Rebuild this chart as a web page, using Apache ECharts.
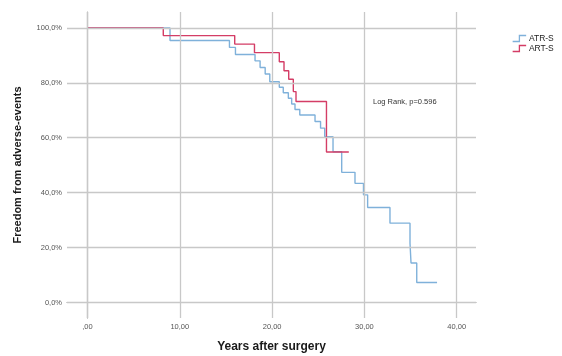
<!DOCTYPE html>
<html>
<head>
<meta charset="utf-8">
<script src="https://cdn.jsdelivr.net/npm/echarts@6/dist/echarts.min.js"></script>
<style>
  html, body { margin: 0; padding: 0; background: #ffffff; }
  #chart { width: 562px; height: 356px; }
</style>
</head>
<body>
<div id="chart"></div>
<script>
// Kaplan-Meier estimates: years after surgery and survival (%) at each step
const atrYears    = [0, 8.94, 15.38, 16.03, 18.15, 18.7, 19.25, 19.75, 20.78, 21.21, 21.76, 22.12, 22.48, 23.0, 24.65, 25.25, 25.7, 26.6, 27.54, 28.98, 29.9, 30.35, 32.77, 34.94, 35.05, 35.67, 37.87];
const atrSurvival = [100, 95.4, 92.9, 90.3, 88.0, 85.6, 83.2, 80.4, 78.4, 76.4, 74.4, 72.3, 70.3, 68.3, 65.9, 63.5, 60.4, 54.9, 47.4, 43.4, 39.2, 34.6, 28.9, 21.6, 14.4, 7.3, 7.3];

const artYears    = [0, 8.21, 15.95, 18.09, 20.78, 21.29, 21.80, 22.30, 22.59, 25.89, 28.31];
const artSurvival = [100, 97.2, 94.1, 91.0, 87.7, 84.4, 81.3, 76.8, 73.2, 54.8, 54.8];

// Axis ticks
const xTicks = [0, 10, 20, 30, 40];
const yTicks = [0, 20, 40, 60, 80, 100];

const seriesNames = ['ATR-S', 'ART-S'];
const colors = ['#7fb1da', '#d43d66'];

const pairs = (xs, ys) => xs.map((x, i) => [x, ys[i]]);

const FONT = '"Liberation Sans", Arial, sans-serif';
const gridColor = '#c8c8c8';
const stepIcon = 'path://M0,8 L9,8 L9,0 L18,0';

const chart = echarts.init(document.getElementById('chart'), null, { renderer: 'canvas' });

chart.setOption({
  animation: false,
  backgroundColor: '#ffffff',
  grid: { left: 67, right: 86, top: 12, bottom: 38, containLabel: false, outerBoundsMode: 'none' },
  xAxis: {
    type: 'value',
    min: -2.22,
    max: 42.09,
    name: 'Years after surgery',
    nameLocation: 'middle',
    nameGap: 23,
    nameTextStyle: { fontFamily: FONT, fontSize: 12, fontWeight: 'bold', color: '#1a1a1a' },
    axisLine: { show: true, lineStyle: { color: '#9a9a9a', width: 1.2 } },
    axisTick: { show: true, customValues: xTicks, length: 3, lineStyle: { color: '#9a9a9a' } },
    axisLabel: {
      customValues: xTicks,
      margin: 5,
      fontFamily: FONT, fontSize: 7.5, color: '#555',
      formatter: v => (v === 0 ? ',00' : v.toFixed(2).replace('.', ','))
    },
    splitLine: { show: false }
  },
  yAxis: {
    type: 'value',
    min: -5.65,
    max: 105.8,
    name: 'Freedom from adverse-events',
    nameLocation: 'middle',
    nameGap: 44,
    nameRotate: 90,
    nameTextStyle: { fontFamily: FONT, fontSize: 11, fontWeight: 'bold', color: '#1a1a1a' },
    axisLine: { show: true, lineStyle: { color: '#9a9a9a', width: 1.2 } },
    axisTick: { show: true, customValues: yTicks, length: 3, lineStyle: { color: '#9a9a9a' } },
    axisLabel: {
      customValues: yTicks,
      margin: 5,
      fontFamily: FONT, fontSize: 7.5, color: '#555',
      formatter: v => v.toFixed(1).replace('.', ',') + '%'
    },
    splitLine: { show: false }
  },
  legend: {
    orient: 'vertical',
    left: 507,
    top: 29,
    itemGap: 1,
    itemWidth: 17,
    itemHeight: 6,
    textStyle: { fontFamily: FONT, fontSize: 8.5, color: '#222', padding: [0, 0, 0, -4] },
    data: seriesNames.map((n, i) => ({
      name: n,
      icon: stepIcon,
      itemStyle: { color: 'rgba(0,0,0,0)', borderColor: colors[i], borderWidth: 1.3 }
    }))
  },
  graphic: [{
    type: 'text',
    left: 373,
    top: 98,
    style: { text: 'Log Rank, p=0.596', fontFamily: FONT, fontSize: 7.5, fill: '#333' }
  }],
  series: [
    {
      // reference grid lines
      type: 'line',
      data: [],
      silent: true,
      z: 1,
      markLine: {
        silent: true,
        symbol: 'none',
        label: { show: false },
        lineStyle: { color: gridColor, width: 1.3, type: 'solid' },
        data: xTicks.map(v => ({ xAxis: v })).concat(yTicks.map(v => ({ yAxis: v })))
      }
    },
    {
      name: seriesNames[0],
      type: 'line',
      step: 'end',
      symbol: 'none',
      z: 3,
      color: colors[0],
      lineStyle: { color: colors[0], width: 1.4 },
      data: pairs(atrYears, atrSurvival)
    },
    {
      name: seriesNames[1],
      type: 'line',
      step: 'end',
      symbol: 'none',
      z: 4,
      color: colors[1],
      lineStyle: { color: colors[1], width: 1.4 },
      data: pairs(artYears, artSurvival)
    }
  ]
});
</script>
</body>
</html>
